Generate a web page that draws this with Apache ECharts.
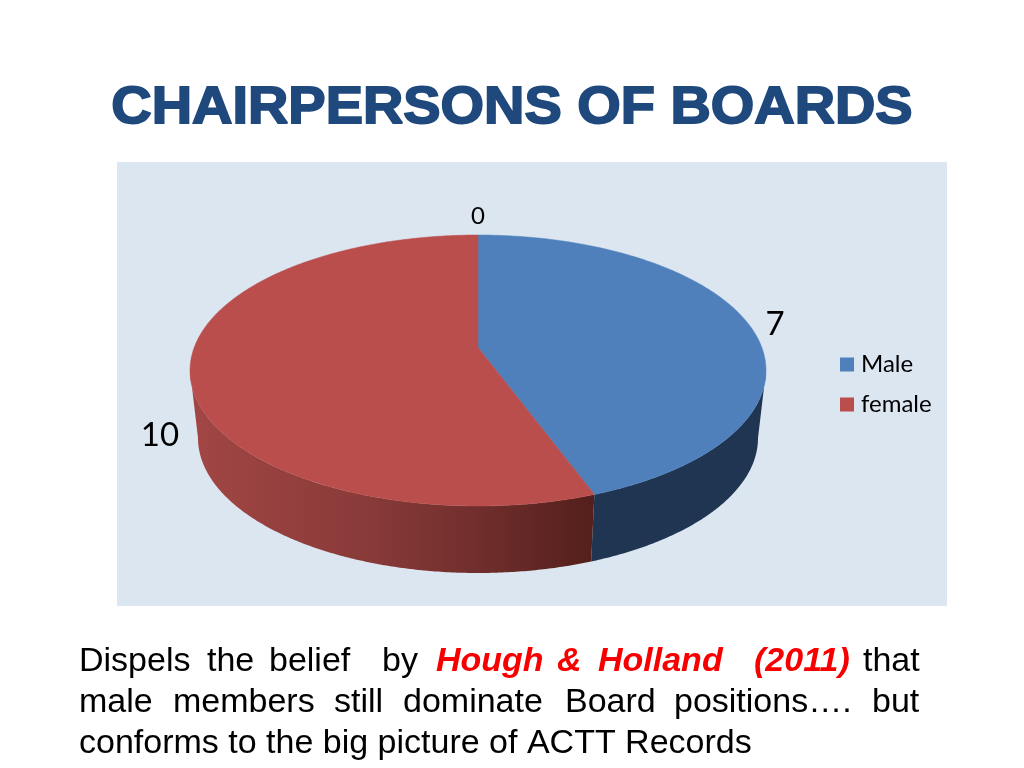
<!DOCTYPE html>
<html><head><meta charset="utf-8">
<style>html,body{margin:0;padding:0;background:#fff}#c{width:1024px;height:768px}</style>
<script src="https://cdn.jsdelivr.net/npm/echarts@6/dist/echarts.min.js"></script>
</head><body><div id="c"></div>
<script>
const categories = ['Male', 'female'];
const values = [7, 10];
const zeroValues = [0];
const topColors = ['#4f80bb', '#ba4e4c'];
const titleText = 'CHAIRPERSONS OF BOARDS';
const line1 = [['Dispels',79,0],['the',207,0],['belief',269,0],['by',382,0],['Hough',436,1],['&',557,1],['Holland',598,1],['(2011)',754,1],['that',863,0]];
const line2 = [['male',79,0],['members',173,0],['still',334,0],['dominate',403,0],['Board',565,0],['positions….',674,0],['but',872,0]];
const line3 = [['conforms to the big picture of ACTT Records',79,0]];

const C = {x:478, y:370.5, rx:288, ry:135.5};      // top rim ellipse
const B = {x:478, y:438, rx:280, ry:135};          // bottom rim ellipse
const P = {x:478, y:347.5};                        // perspective apex
const aspect = 1.279;
const total = values.reduce((a,b)=>a+b,0);

function thetaOf(t){
  const dx = aspect*Math.sin(t), dy = -Math.cos(t);
  const ox = (P.x-C.x)/C.rx, oy = (P.y-C.y)/C.ry, ux = dx/C.rx, uy = dy/C.ry;
  const a = ux*ux+uy*uy, b = 2*(ox*ux+oy*uy), c = ox*ox+oy*oy-1;
  const s = (-b+Math.sqrt(b*b-4*a*c))/(2*a);
  const th = Math.atan2(oy+s*uy, ox+s*ux);
  return th < -Math.PI/2-1e-6 ? th+2*Math.PI : th;
}
const rim = (E,th)=>[E.x+E.rx*Math.cos(th), E.y+E.ry*Math.sin(th)];
function arc(E,a,b){const pts=[];const n=Math.max(2,Math.ceil(Math.abs(b-a)/0.01));for(let i=0;i<=n;i++)pts.push(rim(E,a+(b-a)*i/n));return pts;}

const sideFill = [
  '#1f3551',
  new echarts.graphic.LinearGradient(198,0,593,0,[{offset:0,color:'#a14644'},{offset:0.45,color:'#873a38'},{offset:0.75,color:'#6c2c2a'},{offset:1,color:'#541f1c'}],true)
];
function sliceRange(i){
  let s=0;for(let k=0;k<i;k++)s+=values[k];
  const t0=s/total*2*Math.PI, t1=(s+values[i])/total*2*Math.PI;
  let a=i===0?-Math.PI/2:thetaOf(t0), b=i===values.length-1?1.5*Math.PI:thetaOf(t1);
  return [a,b];
}
function renderSlice(params){
  const i=params.seriesIndex;
  const [a,b]=sliceRange(i);
  const children=[];
  const sa=Math.max(a,0), sb=Math.min(b,Math.PI);
  if(sb>sa){
    children.push({type:'polygon',shape:{points:arc(C,sa,sb).concat(arc(B,sb,sa))},style:{fill:sideFill[i]},z2:1});
  }
  children.push({type:'polygon',shape:{points:[[P.x,P.y]].concat(arc(C,a,b))},style:{fill:topColors[i],stroke:topColors[i],lineWidth:0.5},z2:2});
  return {type:'group',children};
}
const labelFont = '33px Lato';
const labelPos = [[775,324],[160,435]];
const series = categories.map((name,i)=>({
  name, type:'custom', coordinateSystem:'none', silent:true, animation:false,
  itemStyle:{color:topColors[i]},
  data:[[values[i]]],
  renderItem:renderSlice
}));
series.push({
  name:'labels', type:'custom', coordinateSystem:'none', silent:true, animation:false,
  data:[[0]], z:5,
  renderItem(){
    const kids=values.map((v,i)=>({type:'text',style:{text:String(v),x:labelPos[i][0],y:labelPos[i][1],font:labelFont,fill:'#000',align:'center',verticalAlign:'middle'}}));
    kids.push({type:'text',style:{text:String(zeroValues[0]),x:478,y:216.5,font:'24px Lato',fill:'#000',align:'center',verticalAlign:'middle'}});
    return {type:'group',children:kids};
  }
});
const bodyFont=(it)=> (it?'italic bold ':'')+'34px "Liberation Sans"';
const para=[];
[[line1,661.5],[line2,702.5],[line3,743.5]].forEach(([ws,y])=>ws.forEach(w=>{
  para.push({type:'text',z:10,silent:true,style:{text:w[0],x:w[1],y,font:bodyFont(w[2]),fill:w[2]?'#f80000':'#000',align:'left',verticalAlign:'middle'}});
}));
const chart=echarts.init(document.getElementById('c'),null,{renderer:'canvas'});
chart.setOption({
  animation:false,
  backgroundColor:'#fff',
  legend:{data:categories,orient:'vertical',left:835,top:345,itemWidth:14,itemHeight:14,itemGap:11,icon:'rect',selectedMode:false,
    textStyle:{fontFamily:'Lato',fontSize:24,color:'#000',padding:[0,0,0,2],lineHeight:29}},
  graphic:[
    {type:'rect',z:-10,silent:true,shape:{x:117,y:162,width:830,height:444},style:{fill:'#dce6f1'}},
    {type:'text',z:10,silent:true,x:512,y:109,scaleX:1.075,style:{text:titleText,x:0,y:0,font:'bold 52px "Liberation Sans"',fill:'#1f497d',stroke:'#1f497d',lineWidth:1.8,align:'center',verticalAlign:'middle'}},
    ...para
  ],
  series
});
</script></body></html>
